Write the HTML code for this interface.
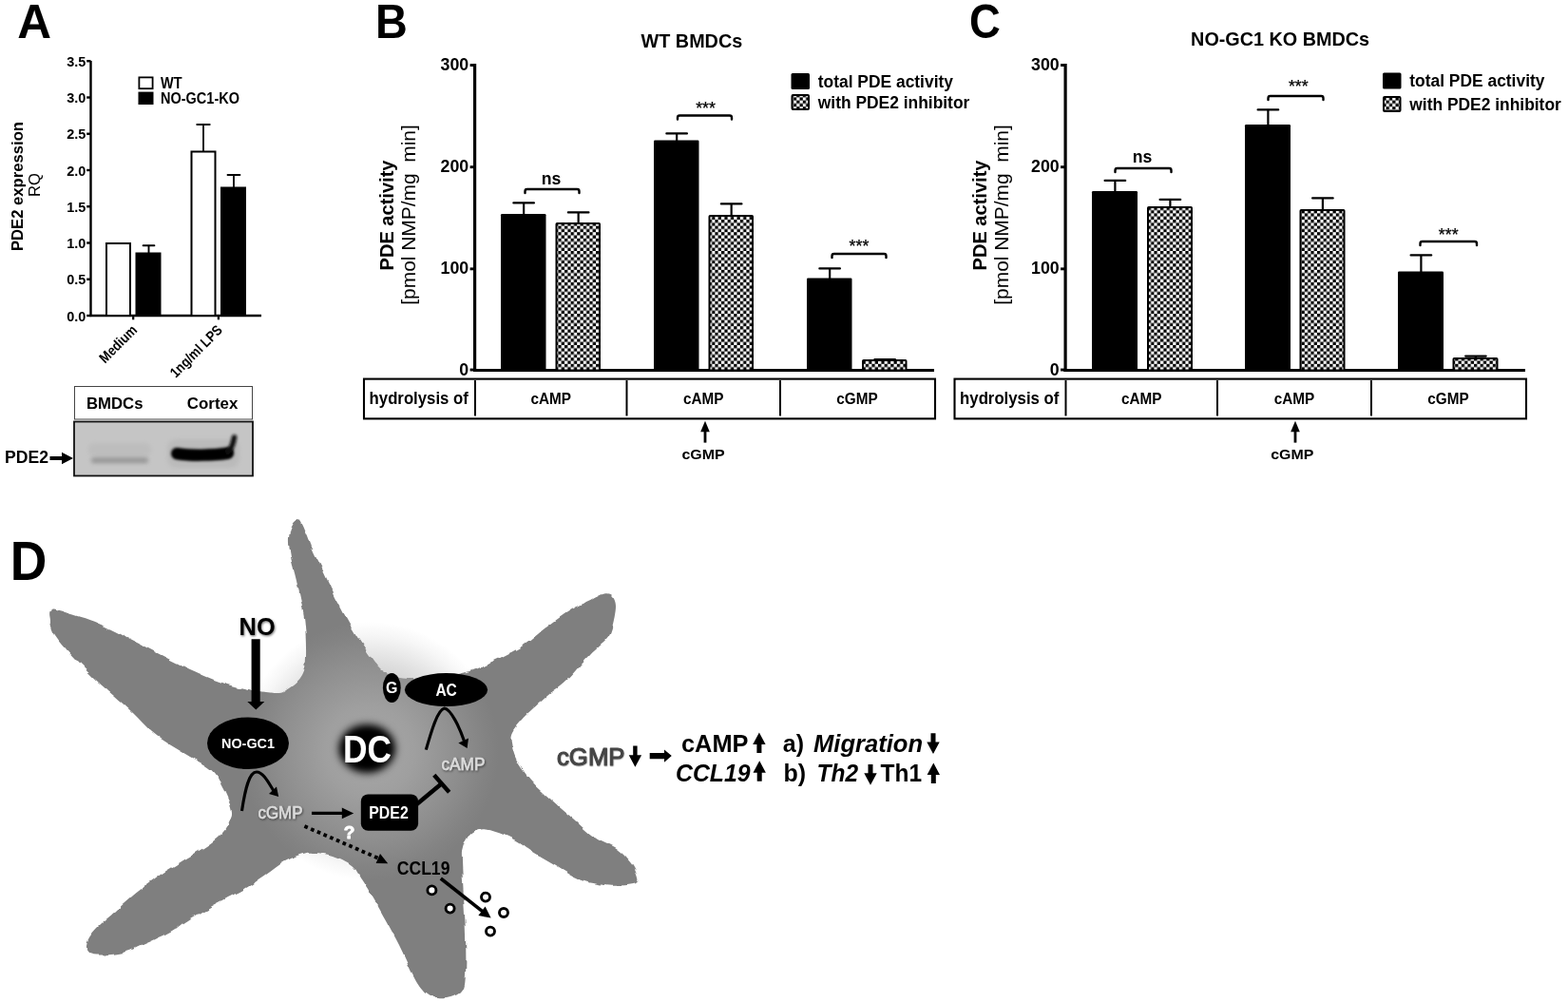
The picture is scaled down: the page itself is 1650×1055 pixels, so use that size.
<!DOCTYPE html>
<html lang="en">
<head>
<meta charset="utf-8">
<title>PDE2 expression and PDE activity in BMDCs</title>
<style>
html,body{margin:0;padding:0;background:#fff;}
body{width:1650px;height:1055px;overflow:hidden;font-family:"Liberation Sans", "DejaVu Sans", sans-serif;}
svg{display:block;}
svg text{font-family:"Liberation Sans", "DejaVu Sans", sans-serif;}
</style>
</head>
<body>
<svg width="1650" height="1055" viewBox="0 0 1650 1055">
<defs>
<pattern id="chk" x="0" y="0" width="6.6" height="6.6" patternUnits="userSpaceOnUse">
<rect x="0" y="0" width="6.6" height="6.6" fill="#fff"/>
<rect x="0" y="0" width="3.3" height="3.3" fill="#000"/>
<rect x="3.3" y="3.3" width="3.3" height="3.3" fill="#000"/>
</pattern>
<radialGradient id="glow" cx="0.5" cy="0.5" r="0.5">
<stop offset="0" stop-color="#a8a8a8" stop-opacity="1"/>
<stop offset="0.35" stop-color="#a8a8a8" stop-opacity="0.78"/>
<stop offset="0.7" stop-color="#a8a8a8" stop-opacity="0.36"/>
<stop offset="0.9" stop-color="#a8a8a8" stop-opacity="0.1"/>
<stop offset="1" stop-color="#a8a8a8" stop-opacity="0"/>
</radialGradient>
<filter id="b1" filterUnits="userSpaceOnUse" x="70" y="436" width="204" height="72"><feGaussianBlur stdDeviation="2.2"/></filter>
<filter id="b2" filterUnits="userSpaceOnUse" x="70" y="436" width="204" height="72"><feGaussianBlur stdDeviation="1.7"/></filter>
<filter id="sh" x="-20%" y="-20%" width="140%" height="160%"><feDropShadow dx="0.8" dy="1.2" stdDeviation="0.8" flood-color="#000" flood-opacity="0.55"/></filter>
<filter id="rough" filterUnits="userSpaceOnUse" x="30" y="530" width="660" height="525"><feTurbulence type="fractalNoise" baseFrequency="0.085" numOctaves="1" seed="7" result="n"/><feDisplacementMap in="SourceGraphic" in2="n" scale="6" xChannelSelector="R" yChannelSelector="G" result="d"/><feGaussianBlur in="d" stdDeviation="0.7"/></filter>
<filter id="dcblur" filterUnits="userSpaceOnUse" x="320" y="730" width="140" height="120"><feGaussianBlur stdDeviation="5"/></filter>
<filter id="sh2" x="-10%" y="-20%" width="120%" height="150%"><feDropShadow dx="0.4" dy="0.6" stdDeviation="0.6" flood-color="#000" flood-opacity="0.35"/></filter>
</defs>
<text x="18.3" y="39.8" font-size="49.5" font-weight="bold" font-style="normal" text-anchor="start" fill="#000" textLength="35.8" lengthAdjust="spacingAndGlyphs">A</text>
<text x="395" y="39.7" font-size="49.5" font-weight="bold" font-style="normal" text-anchor="start" fill="#000" textLength="33.8" lengthAdjust="spacingAndGlyphs">B</text>
<text x="1019.9" y="39.7" font-size="49.5" font-weight="bold" font-style="normal" text-anchor="start" fill="#000" textLength="32.8" lengthAdjust="spacingAndGlyphs">C</text>
<text x="10.7" y="610" font-size="57.2" font-weight="bold" font-style="normal" text-anchor="start" fill="#000" textLength="38.6" lengthAdjust="spacingAndGlyphs">D</text>
<line x1="95.5" y1="64" x2="95.5" y2="333" stroke="#000" stroke-width="2.4" stroke-linecap="butt"/>
<line x1="94.5" y1="332" x2="275" y2="332" stroke="#000" stroke-width="2.4" stroke-linecap="butt"/>
<line x1="91.2" y1="332.0" x2="95.5" y2="332.0" stroke="#000" stroke-width="2.4" stroke-linecap="butt"/>
<text x="90.3" y="337.7" font-size="15.4" font-weight="bold" font-style="normal" text-anchor="end" fill="#000" textLength="20.1" lengthAdjust="spacingAndGlyphs">0.0</text>
<line x1="91.2" y1="293.75" x2="95.5" y2="293.75" stroke="#000" stroke-width="2.4" stroke-linecap="butt"/>
<text x="90.3" y="299.45" font-size="15.4" font-weight="bold" font-style="normal" text-anchor="end" fill="#000" textLength="20.1" lengthAdjust="spacingAndGlyphs">0.5</text>
<line x1="91.2" y1="255.5" x2="95.5" y2="255.5" stroke="#000" stroke-width="2.4" stroke-linecap="butt"/>
<text x="90.3" y="261.2" font-size="15.4" font-weight="bold" font-style="normal" text-anchor="end" fill="#000" textLength="20.1" lengthAdjust="spacingAndGlyphs">1.0</text>
<line x1="91.2" y1="217.25" x2="95.5" y2="217.25" stroke="#000" stroke-width="2.4" stroke-linecap="butt"/>
<text x="90.3" y="222.95" font-size="15.4" font-weight="bold" font-style="normal" text-anchor="end" fill="#000" textLength="20.1" lengthAdjust="spacingAndGlyphs">1.5</text>
<line x1="91.2" y1="179.0" x2="95.5" y2="179.0" stroke="#000" stroke-width="2.4" stroke-linecap="butt"/>
<text x="90.3" y="184.7" font-size="15.4" font-weight="bold" font-style="normal" text-anchor="end" fill="#000" textLength="20.1" lengthAdjust="spacingAndGlyphs">2.0</text>
<line x1="91.2" y1="140.75" x2="95.5" y2="140.75" stroke="#000" stroke-width="2.4" stroke-linecap="butt"/>
<text x="90.3" y="146.45" font-size="15.4" font-weight="bold" font-style="normal" text-anchor="end" fill="#000" textLength="20.1" lengthAdjust="spacingAndGlyphs">2.5</text>
<line x1="91.2" y1="102.5" x2="95.5" y2="102.5" stroke="#000" stroke-width="2.4" stroke-linecap="butt"/>
<text x="90.3" y="108.2" font-size="15.4" font-weight="bold" font-style="normal" text-anchor="end" fill="#000" textLength="20.1" lengthAdjust="spacingAndGlyphs">3.0</text>
<line x1="91.2" y1="64.25" x2="95.5" y2="64.25" stroke="#000" stroke-width="2.4" stroke-linecap="butt"/>
<text x="90.3" y="69.95" font-size="15.4" font-weight="bold" font-style="normal" text-anchor="end" fill="#000" textLength="20.1" lengthAdjust="spacingAndGlyphs">3.5</text>
<line x1="140.2" y1="332" x2="140.2" y2="336.3" stroke="#000" stroke-width="2.2" stroke-linecap="butt"/>
<line x1="229.9" y1="332" x2="229.9" y2="336.3" stroke="#000" stroke-width="2.2" stroke-linecap="butt"/>
<rect x="112" y="256" width="25" height="76" fill="#fff" stroke="#000" stroke-width="2"/>
<rect x="142.5" y="265.5" width="27" height="66.5" fill="#000" stroke="none" stroke-width="0"/>
<line x1="156.5" y1="258.2" x2="156.5" y2="266" stroke="#000" stroke-width="1.9" stroke-linecap="butt"/>
<line x1="150.6" y1="258.2" x2="162.4" y2="258.2" stroke="#000" stroke-width="1.9" stroke-linecap="round"/>
<rect x="201.5" y="159.5" width="25" height="172.5" fill="#fff" stroke="#000" stroke-width="2"/>
<line x1="214" y1="131" x2="214" y2="159" stroke="#000" stroke-width="1.8" stroke-linecap="butt"/>
<line x1="207.25" y1="131" x2="220.75" y2="131" stroke="#000" stroke-width="1.8" stroke-linecap="round"/>
<rect x="232" y="196.5" width="27" height="135.5" fill="#000" stroke="none" stroke-width="0"/>
<line x1="246" y1="184" x2="246" y2="197" stroke="#000" stroke-width="1.8" stroke-linecap="butt"/>
<line x1="239.5" y1="184" x2="252.5" y2="184" stroke="#000" stroke-width="1.8" stroke-linecap="round"/>
<rect x="146.4" y="81.4" width="14.2" height="11.8" fill="#fff" stroke="#000" stroke-width="1.8"/>
<rect x="145.5" y="96.6" width="16" height="13.4" fill="#000" stroke="none" stroke-width="0"/>
<text x="169" y="92.7" font-size="15.95" font-weight="bold" font-style="normal" text-anchor="start" fill="#000" textLength="22.54" lengthAdjust="spacingAndGlyphs">WT</text>
<text x="169" y="109.2" font-size="15.95" font-weight="bold" font-style="normal" text-anchor="start" fill="#000" textLength="82.97" lengthAdjust="spacingAndGlyphs">NO-GC1-KO</text>
<text transform="translate(24,196) rotate(-90)" font-size="16.6" font-weight="bold" text-anchor="middle" fill="#000" textLength="136" lengthAdjust="spacingAndGlyphs">PDE2 expression</text>
<text transform="translate(42,194.5) rotate(-90)" font-size="16.6" font-weight="normal" text-anchor="middle" fill="#000">RQ</text>
<text transform="translate(145.2,348) rotate(-45)" font-size="15" font-weight="bold" text-anchor="end" fill="#000" textLength="49.11" lengthAdjust="spacingAndGlyphs">Medium</text>
<text transform="translate(235,348) rotate(-45)" font-size="15" font-weight="bold" text-anchor="end" fill="#000" textLength="70.79" lengthAdjust="spacingAndGlyphs">1ng/ml LPS</text>
<rect x="78.5" y="406.5" width="187" height="34.5" fill="#fff" stroke="#444" stroke-width="1"/>
<text x="91" y="430" font-size="16.7" font-weight="bold" font-style="normal" text-anchor="start" fill="#000" textLength="59.5" lengthAdjust="spacingAndGlyphs">BMDCs</text>
<text x="196.8" y="430" font-size="16.7" font-weight="bold" font-style="normal" text-anchor="start" fill="#000" textLength="53.5" lengthAdjust="spacingAndGlyphs">Cortex</text>
<g>
<rect x="78" y="443.5" width="188" height="57" fill="#c5c5c5" stroke="none" stroke-width="0"/>
<clipPath id="blotclip"><rect x="78" y="443.5" width="188" height="57"/></clipPath>
<g clip-path="url(#blotclip)">
<rect x="93" y="466" width="66" height="14" rx="6" fill="#b4b4b4" opacity="0.45" filter="url(#b1)"/>
<rect x="176" y="462" width="76" height="30" rx="10" fill="#aaa" opacity="0.4" filter="url(#b1)"/>
<rect x="96" y="481.5" width="60" height="5.5" rx="2.7" fill="#8a8a8a" opacity="0.85" filter="url(#b1)"/>
<path d="M186,477 C200,479.5 225,479 240,476.5" fill="none" stroke="#000" stroke-width="12" stroke-linecap="round" filter="url(#b2)"/>
<path d="M187,477.5 C200,479.5 225,479 240,477" fill="none" stroke="#000" stroke-width="9" stroke-linecap="round" filter="url(#b2)"/>
<path d="M240,475 C244,472 245.5,466 246.5,460" fill="none" stroke="#111" stroke-width="5.5" stroke-linecap="round" filter="url(#b2)"/>
</g>
<rect x="78" y="443.5" width="188" height="57" fill="none" stroke="#111" stroke-width="1.8"/>
</g>
<text x="5" y="486.5" font-size="17.5" font-weight="bold" font-style="normal" text-anchor="start" fill="#000" textLength="46" lengthAdjust="spacingAndGlyphs">PDE2</text>
<path d="M52.5,480 L65,480 L65,475.8 L77,482 L65,488.2 L65,484 L52.5,484 Z" fill="#000"/>
<line x1="499.6" y1="67" x2="499.6" y2="391.0" stroke="#000" stroke-width="3.2" stroke-linecap="butt"/>
<line x1="498" y1="389.5" x2="983" y2="389.5" stroke="#000" stroke-width="3" stroke-linecap="butt"/>
<line x1="494.6" y1="389.0" x2="500" y2="389.0" stroke="#000" stroke-width="2.9" stroke-linecap="butt"/>
<text x="493.2" y="394.5" font-size="18.4" font-weight="bold" font-style="normal" text-anchor="end" fill="#000" textLength="9.9" lengthAdjust="spacingAndGlyphs">0</text>
<line x1="494.6" y1="282.85" x2="500" y2="282.85" stroke="#000" stroke-width="2.9" stroke-linecap="butt"/>
<text x="493.2" y="288.35" font-size="18.4" font-weight="bold" font-style="normal" text-anchor="end" fill="#000" textLength="29.7" lengthAdjust="spacingAndGlyphs">100</text>
<line x1="494.6" y1="175.70000000000002" x2="500" y2="175.70000000000002" stroke="#000" stroke-width="2.9" stroke-linecap="butt"/>
<text x="493.2" y="181.20000000000002" font-size="18.4" font-weight="bold" font-style="normal" text-anchor="end" fill="#000" textLength="29.7" lengthAdjust="spacingAndGlyphs">200</text>
<line x1="494.6" y1="68.55000000000001" x2="500" y2="68.55000000000001" stroke="#000" stroke-width="2.9" stroke-linecap="butt"/>
<text x="493.2" y="74.05000000000001" font-size="18.4" font-weight="bold" font-style="normal" text-anchor="end" fill="#000" textLength="29.7" lengthAdjust="spacingAndGlyphs">300</text>
<text x="674.6" y="50" font-size="19.8" font-weight="bold" font-style="normal" text-anchor="start" fill="#000">WT BMDCs</text>
<text transform="translate(413.5,226.5) rotate(-90)" font-size="20.8" font-weight="bold" text-anchor="middle" fill="#000" textLength="116" lengthAdjust="spacingAndGlyphs">PDE activity</text>
<text transform="translate(437,226) rotate(-90)" font-size="20.8" font-weight="normal" text-anchor="middle" fill="#000" textLength="189.5" lengthAdjust="spacingAndGlyphs">[pmol NMP/mg  min]</text>
<rect x="527" y="225" width="47.5" height="164.5" fill="#000" stroke="none" stroke-width="0" rx="1.2"/>
<line x1="551.15" y1="213.4" x2="551.15" y2="226" stroke="#000" stroke-width="2.2" stroke-linecap="butt"/>
<line x1="540.35" y1="213.4" x2="561.9499999999999" y2="213.4" stroke="#000" stroke-width="2.2" stroke-linecap="round"/>
<rect x="585.5" y="235" width="45.5" height="154.5" fill="url(#chk)" stroke="#000" stroke-width="2" rx="0.8"/>
<line x1="608.65" y1="223.4" x2="608.65" y2="235" stroke="#000" stroke-width="2.2" stroke-linecap="butt"/>
<line x1="597.85" y1="223.4" x2="619.4499999999999" y2="223.4" stroke="#000" stroke-width="2.2" stroke-linecap="round"/>
<rect x="688" y="147.5" width="47.5" height="242.0" fill="#000" stroke="none" stroke-width="0" rx="1.2"/>
<line x1="712.15" y1="140.4" x2="712.15" y2="148.5" stroke="#000" stroke-width="2.2" stroke-linecap="butt"/>
<line x1="701.35" y1="140.4" x2="722.9499999999999" y2="140.4" stroke="#000" stroke-width="2.2" stroke-linecap="round"/>
<rect x="746.5" y="227" width="45.5" height="162.5" fill="url(#chk)" stroke="#000" stroke-width="2" rx="0.8"/>
<line x1="769.65" y1="214.4" x2="769.65" y2="227" stroke="#000" stroke-width="2.2" stroke-linecap="butt"/>
<line x1="758.85" y1="214.4" x2="780.4499999999999" y2="214.4" stroke="#000" stroke-width="2.2" stroke-linecap="round"/>
<rect x="849" y="292.5" width="47.5" height="97.0" fill="#000" stroke="none" stroke-width="0" rx="1.2"/>
<line x1="873.15" y1="282.4" x2="873.15" y2="293.5" stroke="#000" stroke-width="2.2" stroke-linecap="butt"/>
<line x1="862.35" y1="282.4" x2="883.9499999999999" y2="282.4" stroke="#000" stroke-width="2.2" stroke-linecap="round"/>
<rect x="908" y="379" width="45.5" height="10.5" fill="url(#chk)" stroke="#000" stroke-width="2" rx="0.8"/>
<line x1="931.15" y1="378.0" x2="931.15" y2="379" stroke="#000" stroke-width="2.2" stroke-linecap="butt"/>
<line x1="920.35" y1="378.0" x2="941.9499999999999" y2="378.0" stroke="#000" stroke-width="2.2" stroke-linecap="round"/>
<path d="M552.5,203 L552.5,201.2 Q552.5,199 554.7,199 L607.3,199 Q609.5,199 609.5,201.2 L609.5,203" fill="none" stroke="#000" stroke-width="2.4" stroke-linecap="round" stroke-linejoin="round"/>
<text x="580.0" y="194.3" font-size="18.5" font-weight="bold" font-style="normal" text-anchor="middle" fill="#000" textLength="20.6" lengthAdjust="spacingAndGlyphs">ns</text>
<path d="M713,125.5 L713,123.7 Q713,121.5 715.2,121.5 L767.8,121.5 Q770,121.5 770,123.7 L770,125.5" fill="none" stroke="#000" stroke-width="2.4" stroke-linecap="round" stroke-linejoin="round"/>
<text x="742.6" y="119.6" font-size="17.8" font-weight="normal" font-style="normal" text-anchor="middle" fill="#000" stroke="#000" stroke-width="0.25">***</text>
<path d="M875.5,271 L875.5,269.2 Q875.5,267 877.7,267 L930.3,267 Q932.5,267 932.5,269.2 L932.5,271" fill="none" stroke="#000" stroke-width="2.4" stroke-linecap="round" stroke-linejoin="round"/>
<text x="904.0" y="265.1" font-size="17.8" font-weight="normal" font-style="normal" text-anchor="middle" fill="#000" stroke="#000" stroke-width="0.25">***</text>
<rect x="832.5" y="77" width="19.5" height="17" fill="#000" stroke="none" stroke-width="0" rx="1.5"/>
<rect x="833.5" y="100" width="17.5" height="15" fill="url(#chk)" stroke="#000" stroke-width="2" rx="1"/>
<text x="860.8" y="91.5" font-size="19.14" font-weight="bold" font-style="normal" text-anchor="start" fill="#000" textLength="142.14" lengthAdjust="spacingAndGlyphs">total PDE activity</text>
<text x="860.8" y="113.5" font-size="19.14" font-weight="bold" font-style="normal" text-anchor="start" fill="#000" textLength="159.5" lengthAdjust="spacingAndGlyphs">with PDE2 inhibitor</text>
<rect x="383" y="398.6" width="601" height="41.8" fill="#fff" stroke="#000" stroke-width="2.1"/>
<line x1="500" y1="400" x2="500" y2="437.5" stroke="#000" stroke-width="2" stroke-linecap="butt"/>
<line x1="659.5" y1="400" x2="659.5" y2="437.5" stroke="#000" stroke-width="2" stroke-linecap="butt"/>
<line x1="821" y1="400" x2="821" y2="437.5" stroke="#000" stroke-width="2" stroke-linecap="butt"/>
<text x="388.6" y="425.3" font-size="18.43" font-weight="bold" font-style="normal" text-anchor="start" fill="#000" textLength="104.25" lengthAdjust="spacingAndGlyphs">hydrolysis of</text>
<text x="579.75" y="425.2" font-size="15.76" font-weight="bold" font-style="normal" text-anchor="middle" fill="#000" textLength="42.51" lengthAdjust="spacingAndGlyphs">cAMP</text>
<text x="740.25" y="425.2" font-size="15.76" font-weight="bold" font-style="normal" text-anchor="middle" fill="#000" textLength="42.51" lengthAdjust="spacingAndGlyphs">cAMP</text>
<text x="902.0" y="425.2" font-size="15.76" font-weight="bold" font-style="normal" text-anchor="middle" fill="#000" textLength="43.36" lengthAdjust="spacingAndGlyphs">cGMP</text>
<line x1="742" y1="453.3" x2="742" y2="465.6" stroke="#000" stroke-width="2.8" stroke-linecap="butt"/>
<path d="M742,442.8 L746.8,454.3 L737.2,454.3 Z" fill="#000"/>
<text x="740" y="482.6" font-size="14.7" font-weight="bold" font-style="normal" text-anchor="middle" fill="#000" textLength="45.2" lengthAdjust="spacingAndGlyphs">cGMP</text>
<line x1="1121.1" y1="67" x2="1121.1" y2="391.0" stroke="#000" stroke-width="3.2" stroke-linecap="butt"/>
<line x1="1119.5" y1="389.5" x2="1605" y2="389.5" stroke="#000" stroke-width="3" stroke-linecap="butt"/>
<line x1="1116.1" y1="389.0" x2="1121.5" y2="389.0" stroke="#000" stroke-width="2.9" stroke-linecap="butt"/>
<text x="1114.7" y="394.5" font-size="18.4" font-weight="bold" font-style="normal" text-anchor="end" fill="#000" textLength="9.9" lengthAdjust="spacingAndGlyphs">0</text>
<line x1="1116.1" y1="282.85" x2="1121.5" y2="282.85" stroke="#000" stroke-width="2.9" stroke-linecap="butt"/>
<text x="1114.7" y="288.35" font-size="18.4" font-weight="bold" font-style="normal" text-anchor="end" fill="#000" textLength="29.7" lengthAdjust="spacingAndGlyphs">100</text>
<line x1="1116.1" y1="175.70000000000002" x2="1121.5" y2="175.70000000000002" stroke="#000" stroke-width="2.9" stroke-linecap="butt"/>
<text x="1114.7" y="181.20000000000002" font-size="18.4" font-weight="bold" font-style="normal" text-anchor="end" fill="#000" textLength="29.7" lengthAdjust="spacingAndGlyphs">200</text>
<line x1="1116.1" y1="68.55000000000001" x2="1121.5" y2="68.55000000000001" stroke="#000" stroke-width="2.9" stroke-linecap="butt"/>
<text x="1114.7" y="74.05000000000001" font-size="18.4" font-weight="bold" font-style="normal" text-anchor="end" fill="#000" textLength="29.7" lengthAdjust="spacingAndGlyphs">300</text>
<text x="1253.1" y="48" font-size="19.8" font-weight="bold" font-style="normal" text-anchor="start" fill="#000">NO-GC1 KO BMDCs</text>
<text transform="translate(1037.5,226.5) rotate(-90)" font-size="20.8" font-weight="bold" text-anchor="middle" fill="#000" textLength="116" lengthAdjust="spacingAndGlyphs">PDE activity</text>
<text transform="translate(1061.0,226) rotate(-90)" font-size="20.8" font-weight="normal" text-anchor="middle" fill="#000" textLength="189.5" lengthAdjust="spacingAndGlyphs">[pmol NMP/mg  min]</text>
<rect x="1149" y="201" width="48" height="188.5" fill="#000" stroke="none" stroke-width="0" rx="1.2"/>
<line x1="1173.4" y1="189.9" x2="1173.4" y2="202" stroke="#000" stroke-width="2.2" stroke-linecap="butt"/>
<line x1="1162.6000000000001" y1="189.9" x2="1184.2" y2="189.9" stroke="#000" stroke-width="2.2" stroke-linecap="round"/>
<rect x="1208" y="218" width="46" height="171.5" fill="url(#chk)" stroke="#000" stroke-width="2" rx="0.8"/>
<line x1="1231.4" y1="209.9" x2="1231.4" y2="218" stroke="#000" stroke-width="2.2" stroke-linecap="butt"/>
<line x1="1220.6000000000001" y1="209.9" x2="1242.2" y2="209.9" stroke="#000" stroke-width="2.2" stroke-linecap="round"/>
<rect x="1310" y="131" width="48" height="258.5" fill="#000" stroke="none" stroke-width="0" rx="1.2"/>
<line x1="1334.4" y1="115.4" x2="1334.4" y2="132" stroke="#000" stroke-width="2.2" stroke-linecap="butt"/>
<line x1="1323.6000000000001" y1="115.4" x2="1345.2" y2="115.4" stroke="#000" stroke-width="2.2" stroke-linecap="round"/>
<rect x="1368.5" y="221" width="46" height="168.5" fill="url(#chk)" stroke="#000" stroke-width="2" rx="0.8"/>
<line x1="1391.9" y1="208.4" x2="1391.9" y2="221" stroke="#000" stroke-width="2.2" stroke-linecap="butt"/>
<line x1="1381.1000000000001" y1="208.4" x2="1402.7" y2="208.4" stroke="#000" stroke-width="2.2" stroke-linecap="round"/>
<rect x="1471" y="285.5" width="48" height="104.0" fill="#000" stroke="none" stroke-width="0" rx="1.2"/>
<line x1="1495.4" y1="268.4" x2="1495.4" y2="286.5" stroke="#000" stroke-width="2.2" stroke-linecap="butt"/>
<line x1="1484.6000000000001" y1="268.4" x2="1506.2" y2="268.4" stroke="#000" stroke-width="2.2" stroke-linecap="round"/>
<rect x="1529.5" y="377" width="46" height="12.5" fill="url(#chk)" stroke="#000" stroke-width="2" rx="0.8"/>
<line x1="1552.9" y1="374.59999999999997" x2="1552.9" y2="377" stroke="#000" stroke-width="2.2" stroke-linecap="butt"/>
<line x1="1542.1000000000001" y1="374.59999999999997" x2="1563.7" y2="374.59999999999997" stroke="#000" stroke-width="2.2" stroke-linecap="round"/>
<path d="M1173.5,181 L1173.5,179.2 Q1173.5,177 1175.7,177 L1230.3,177 Q1232.5,177 1232.5,179.2 L1232.5,181" fill="none" stroke="#000" stroke-width="2.4" stroke-linecap="round" stroke-linejoin="round"/>
<text x="1202.0" y="171.3" font-size="18.5" font-weight="bold" font-style="normal" text-anchor="middle" fill="#000" textLength="20.6" lengthAdjust="spacingAndGlyphs">ns</text>
<path d="M1334.5,105 L1334.5,103.2 Q1334.5,101 1336.7,101 L1390.3,101 Q1392.5,101 1392.5,103.2 L1392.5,105" fill="none" stroke="#000" stroke-width="2.4" stroke-linecap="round" stroke-linejoin="round"/>
<text x="1366.3" y="96.6" font-size="17.8" font-weight="normal" font-style="normal" text-anchor="middle" fill="#000" stroke="#000" stroke-width="0.25">***</text>
<path d="M1494.5,258 L1494.5,256.2 Q1494.5,254 1496.7,254 L1551.8,254 Q1554,254 1554,256.2 L1554,258" fill="none" stroke="#000" stroke-width="2.4" stroke-linecap="round" stroke-linejoin="round"/>
<text x="1524.25" y="253.1" font-size="17.8" font-weight="normal" font-style="normal" text-anchor="middle" fill="#000" stroke="#000" stroke-width="0.25">***</text>
<rect x="1455" y="76.5" width="19.5" height="17" fill="#000" stroke="none" stroke-width="0" rx="1.5"/>
<rect x="1456" y="102" width="17.5" height="15" fill="url(#chk)" stroke="#000" stroke-width="2" rx="1"/>
<text x="1483.3" y="90.8" font-size="19.14" font-weight="bold" font-style="normal" text-anchor="start" fill="#000" textLength="142.14" lengthAdjust="spacingAndGlyphs">total PDE activity</text>
<text x="1483.3" y="115.6" font-size="19.14" font-weight="bold" font-style="normal" text-anchor="start" fill="#000" textLength="159.5" lengthAdjust="spacingAndGlyphs">with PDE2 inhibitor</text>
<rect x="1004.5" y="398.6" width="601.5" height="41.8" fill="#fff" stroke="#000" stroke-width="2.1"/>
<line x1="1121.5" y1="400" x2="1121.5" y2="437.5" stroke="#000" stroke-width="2" stroke-linecap="butt"/>
<line x1="1281" y1="400" x2="1281" y2="437.5" stroke="#000" stroke-width="2" stroke-linecap="butt"/>
<line x1="1443" y1="400" x2="1443" y2="437.5" stroke="#000" stroke-width="2" stroke-linecap="butt"/>
<text x="1010.1" y="425.3" font-size="18.43" font-weight="bold" font-style="normal" text-anchor="start" fill="#000" textLength="104.25" lengthAdjust="spacingAndGlyphs">hydrolysis of</text>
<text x="1201.25" y="425.2" font-size="15.76" font-weight="bold" font-style="normal" text-anchor="middle" fill="#000" textLength="42.51" lengthAdjust="spacingAndGlyphs">cAMP</text>
<text x="1362.0" y="425.2" font-size="15.76" font-weight="bold" font-style="normal" text-anchor="middle" fill="#000" textLength="42.51" lengthAdjust="spacingAndGlyphs">cAMP</text>
<text x="1524.0" y="425.2" font-size="15.76" font-weight="bold" font-style="normal" text-anchor="middle" fill="#000" textLength="43.36" lengthAdjust="spacingAndGlyphs">cGMP</text>
<line x1="1363" y1="453.3" x2="1363" y2="465.6" stroke="#000" stroke-width="2.8" stroke-linecap="butt"/>
<path d="M1363,442.8 L1367.8,454.3 L1358.2,454.3 Z" fill="#000"/>
<text x="1359.8" y="482.6" font-size="14.7" font-weight="bold" font-style="normal" text-anchor="middle" fill="#000" textLength="45.2" lengthAdjust="spacingAndGlyphs">cGMP</text>
<path id="starpath" d="M315,547 C317.3,548.3 319.5,554.5 322,560 C324.5,565.5 327.3,574.0 330,580 C332.7,586.0 333.7,587.0 338,596 C342.3,605.0 349.7,621.7 356,634 C362.3,646.3 369.0,658.7 376,670 C383.0,681.3 391.7,695.2 398,702 C404.3,708.8 407.0,709.2 414,711 C421.0,712.8 430.7,713.0 440,713 C449.3,713.0 461.7,712.0 470,711 C478.3,710.0 484.7,708.3 490,707 C495.3,705.7 495.3,705.8 502,703 C508.7,700.2 521.7,694.2 530,690 C538.3,685.8 544.3,683.2 552,678 C559.7,672.8 568.0,665.0 576,659 C584.0,653.0 592.7,646.5 600,642 C607.3,637.5 614.0,634.9 620,632 C626.0,629.1 632.0,625.3 636,624.5 C640.0,623.7 642.0,624.8 644,627 C646.0,629.2 648.0,632.5 648,638 C648.0,643.5 645.7,654.3 644,660 C642.3,665.7 642.0,667.2 638,672 C634.0,676.8 627.0,681.7 620,689 C613.0,696.3 603.3,708.8 596,716 C588.7,723.2 582.3,726.7 576,732 C569.7,737.3 562.7,743.7 558,748 C553.3,752.3 551.2,754.3 548,758 C544.8,761.7 540.7,766.3 539,770 C537.3,773.7 537.2,775.0 538,780 C538.8,785.0 540.3,793.0 544,800 C547.7,807.0 554.0,815.2 560,822 C566.0,828.8 572.7,834.3 580,841 C587.3,847.7 596.3,855.3 604,862 C611.7,868.7 618.3,875.7 626,881 C633.7,886.3 643.7,889.5 650,894 C656.3,898.5 660.7,903.7 664,908 C667.3,912.3 668.9,916.7 670,920 C671.1,923.3 672.2,926.2 670.5,928 C668.8,929.8 665.1,930.4 660,931 C654.9,931.6 647.3,932.2 640,931.5 C632.7,930.8 622.7,928.9 616,927 C609.3,925.1 606.0,923.2 600,920 C594.0,916.8 586.7,912.0 580,908 C573.3,904.0 565.7,899.7 560,896 C554.3,892.3 551.0,889.0 546,886 C541.0,883.0 535.7,880.2 530,878 C524.3,875.8 517.0,873.2 512,872.5 C507.0,871.8 503.3,872.8 500,874 C496.7,875.2 494.2,877.0 492,880 C489.8,883.0 488.0,888.0 487,892 C486.0,896.0 485.8,895.3 486,904 C486.2,912.7 487.3,930.7 488,944 C488.7,957.3 489.7,970.7 490,984 C490.3,997.3 490.7,1014.3 490,1024 C489.3,1033.7 489.3,1037.7 486,1042 C482.7,1046.3 475.3,1049.0 470,1050 C464.7,1051.0 458.3,1049.7 454,1048 C449.7,1046.3 447.3,1044.0 444,1040 C440.7,1036.0 438.0,1031.7 434,1024 C430.0,1016.3 424.7,1003.3 420,994 C415.3,984.7 411.0,977.0 406,968 C401.0,959.0 394.3,947.3 390,940 C385.7,932.7 383.3,929.0 380,924 C376.7,919.0 375.0,914.0 370,910 C365.0,906.0 356.7,902.2 350,900 C343.3,897.8 335.0,897.3 330,897 C325.0,896.7 325.0,896.5 320,898 C315.0,899.5 306.7,902.3 300,906 C293.3,909.7 287.3,915.0 280,920 C272.7,925.0 262.7,932.0 256,936 C249.3,940.0 249.3,939.0 240,944 C230.7,949.0 210.0,960.0 200,966 C190.0,972.0 188.3,975.3 180,980 C171.7,984.7 158.3,990.3 150,994 C141.7,997.7 136.7,1000.2 130,1002 C123.3,1003.8 115.7,1004.3 110,1004.5 C104.3,1004.7 99.2,1004.4 96,1003 C92.8,1001.6 91.3,998.8 91,996 C90.7,993.2 91.8,989.7 94,986 C96.2,982.3 99.7,978.3 104,974 C108.3,969.7 114.0,965.3 120,960 C126.0,954.7 132.3,948.3 140,942 C147.7,935.7 158.0,927.7 166,922 C174.0,916.3 179.0,913.7 188,908 C197.0,902.3 212.0,893.7 220,888 C228.0,882.3 232.3,878.3 236,874 C239.7,869.7 240.7,865.3 242,862 C243.3,858.7 244.3,857.7 244,854 C243.7,850.3 242.3,845.7 240,840 C237.7,834.3 233.3,825.3 230,820 C226.7,814.7 225.0,812.0 220,808 C215.0,804.0 206.7,800.0 200,796 C193.3,792.0 186.7,788.3 180,784 C173.3,779.7 166.7,775.7 160,770 C153.3,764.3 146.7,756.3 140,750 C133.3,743.7 126.0,737.3 120,732 C114.0,726.7 110.7,724.3 104,718 C97.3,711.7 87.7,702.3 80,694 C72.3,685.7 62.6,675.3 58,668 C53.4,660.7 53.3,654.2 52.5,650 C51.7,645.8 52.4,644.6 53,643 C53.6,641.4 53.2,640.2 56,640.5 C58.8,640.8 62.0,641.9 70,644.5 C78.0,647.1 89.7,649.8 104,656 C118.3,662.2 140.0,674.0 156,682 C172.0,690.0 186.0,697.7 200,704 C214.0,710.3 225.3,715.8 240,720 C254.7,724.2 277.3,728.3 288,729 C298.7,729.7 299.0,727.2 304,724 C309.0,720.8 315.0,715.7 318,710 C321.0,704.3 321.7,700.0 322,690 C322.3,680.0 321.7,663.3 320,650 C318.3,636.7 314.3,620.7 312,610 C309.7,599.3 307.3,593.3 306,586 C304.7,578.7 303.7,571.7 304,566 C304.3,560.3 306.2,555.2 308,552 C309.8,548.8 312.7,545.7 315,547 Z" fill="#7f7f7f" filter="url(#rough)"/>
<circle cx="389" cy="790" r="136" fill="url(#glow)"/>
<ellipse cx="386.3" cy="787.4" rx="29" ry="25" fill="#000" filter="url(#dcblur)"/>
<ellipse cx="386.3" cy="787.4" rx="25" ry="20" fill="#000" filter="url(#dcblur)"/>
<text x="386.5" y="801.8" font-size="40" font-weight="bold" font-style="normal" text-anchor="middle" fill="#fff" textLength="51" lengthAdjust="spacingAndGlyphs">DC</text>
<text x="251.6" y="667.6" font-size="26.5" font-weight="bold" font-style="normal" text-anchor="start" fill="#000" textLength="38" lengthAdjust="spacingAndGlyphs" filter="url(#sh)">NO</text>
<path d="M264.6,672.3 L273.7,672.3 L273.7,738 L278.3,738 L269.3,746.6 L260.3,738 L264.6,738 Z" fill="#000"/>
<ellipse cx="261" cy="781.7" rx="43" ry="27.3" fill="#000"/>
<text x="261" y="787.4" font-size="15.2" font-weight="bold" font-style="normal" text-anchor="middle" fill="#fff" textLength="56" lengthAdjust="spacingAndGlyphs">NO-GC1</text>
<path d="M254.5,853 C258,830 262,812 270,812 C277,812 283,824 288,832" fill="none" stroke="#000" stroke-width="3.1" stroke-linecap="butt"/>
<path d="M293.2,838 L283,835 L291,827.4 Z" fill="#000"/>
<text x="271.5" y="861" font-size="17.5" font-weight="normal" font-style="normal" text-anchor="start" fill="#dcdcdc" textLength="47" lengthAdjust="spacingAndGlyphs" stroke="#dcdcdc" stroke-width="0.5" filter="url(#sh)">cGMP</text>
<line x1="328" y1="855.4" x2="363" y2="855.4" stroke="#000" stroke-width="3.4" stroke-linecap="butt"/>
<path d="M372.2,855.4 L359.8,849.6 L359.8,861.2 Z" fill="#000"/>
<rect x="379.8" y="835.4" width="60.3" height="38.4" rx="7.5" fill="#000"/>
<text x="409" y="861.4" font-size="18.8" font-weight="bold" font-style="normal" text-anchor="middle" fill="#fff" textLength="41.4" lengthAdjust="spacingAndGlyphs">PDE2</text>
<line x1="438.5" y1="846" x2="465" y2="824" stroke="#000" stroke-width="4.5" stroke-linecap="butt"/>
<line x1="456.8" y1="815.3" x2="472.7" y2="833.2" stroke="#000" stroke-width="4.4" stroke-linecap="butt"/>
<line x1="320.4" y1="869" x2="397.5" y2="902.5" stroke="#000" stroke-width="3.8" stroke-linecap="butt" stroke-dasharray="3.7 3.6"/>
<path d="M408.2,908.2 L395.6,908 L400,898 Z" fill="#000"/>
<text x="367.6" y="881.6" font-size="19" font-weight="bold" font-style="normal" text-anchor="middle" fill="#fff" stroke="#fff" stroke-width="0.9" stroke-linejoin="round">?</text>
<ellipse cx="412.3" cy="723.5" rx="9.4" ry="15.5" fill="#000"/>
<text x="412.3" y="729.4" font-size="17.2" font-weight="bold" font-style="normal" text-anchor="middle" fill="#fff" textLength="12.4" lengthAdjust="spacingAndGlyphs">G</text>
<ellipse cx="469.5" cy="725.6" rx="43.6" ry="17.5" fill="#000"/>
<text x="469.6" y="732.2" font-size="18.4" font-weight="bold" font-style="normal" text-anchor="middle" fill="#fff" textLength="22.4" lengthAdjust="spacingAndGlyphs">AC</text>
<path d="M448.3,788.6 C454,769 460.5,746.5 467.6,745 C474.5,746 483.5,765 488.3,779" fill="none" stroke="#000" stroke-width="3.1"/>
<path d="M491.6,787 L482.4,781.6 L493,776.4 Z" fill="#000"/>
<text x="464.5" y="809.5" font-size="17.5" font-weight="normal" font-style="normal" text-anchor="start" fill="#dcdcdc" textLength="46" lengthAdjust="spacingAndGlyphs" stroke="#dcdcdc" stroke-width="0.5" filter="url(#sh)">cAMP</text>
<text x="417.8" y="919.6" font-size="21" font-weight="bold" font-style="normal" text-anchor="start" fill="#000" textLength="55.6" lengthAdjust="spacingAndGlyphs">CCL19</text>
<line x1="463.8" y1="924" x2="508" y2="958.8" stroke="#000" stroke-width="3.6" stroke-linecap="butt"/>
<path d="M516.6,965.6 L503.4,963 L510.6,953.4 Z" fill="#000"/>
<circle cx="454.4" cy="936.4" r="4.5" fill="#fff" stroke="#000" stroke-width="2.9"/>
<circle cx="473.6" cy="955.6" r="4.5" fill="#fff" stroke="#000" stroke-width="2.9"/>
<circle cx="511" cy="943.6" r="4.5" fill="#fff" stroke="#000" stroke-width="2.9"/>
<circle cx="530" cy="960" r="4.5" fill="#fff" stroke="#000" stroke-width="2.9"/>
<circle cx="516" cy="979.6" r="4.5" fill="#fff" stroke="#000" stroke-width="2.9"/>
<text x="586" y="805" font-size="25.4" font-weight="normal" font-style="normal" text-anchor="start" fill="#454545" textLength="71.5" lengthAdjust="spacingAndGlyphs" stroke="#454545" stroke-width="1.1" stroke-linejoin="round" filter="url(#sh2)">cGMP</text>
<path d="M666.1999999999999,784.5 L670.6,784.5 L670.6,794.2 L675.1,794.2 L668.4,806.7 L661.6999999999999,794.2 L666.1999999999999,794.2 Z" fill="#000"/>
<path d="M683.7,792 L699,792 L699,788.4 L706.8,795.1 L699,801.8 L699,798.3 L683.7,798.3 Z" fill="#000"/>
<text x="717" y="791.3" font-size="25" font-weight="bold" font-style="normal" text-anchor="start" fill="#000" textLength="70.5" lengthAdjust="spacingAndGlyphs">cAMP</text>
<path d="M796.4,792 L801.4,792 L801.4,782.9 L805.6,782.9 L798.9,770.4 L792.1999999999999,782.9 L796.4,782.9 Z" fill="#000"/>
<text x="823.8" y="791.3" font-size="25" font-weight="bold" font-style="normal" text-anchor="start" fill="#000">a)</text>
<text x="856" y="791.3" font-size="25" font-weight="bold" font-style="italic" text-anchor="start" fill="#000" textLength="115" lengthAdjust="spacingAndGlyphs">Migration</text>
<path d="M979.5,771.3 L984.5,771.3 L984.5,780.5 L988.7,780.5 L982,793 L975.3,780.5 L979.5,780.5 Z" fill="#000"/>
<text x="711" y="822" font-size="25" font-weight="bold" font-style="italic" text-anchor="start" fill="#000" textLength="78.5" lengthAdjust="spacingAndGlyphs">CCL19</text>
<path d="M796.7,821.8 L801.7,821.8 L801.7,812.7 L805.9000000000001,812.7 L799.2,800.2 L792.5,812.7 L796.7,812.7 Z" fill="#000"/>
<text x="824.6" y="822" font-size="25" font-weight="bold" font-style="normal" text-anchor="start" fill="#000">b)</text>
<text x="859.5" y="822" font-size="25" font-weight="bold" font-style="italic" text-anchor="start" fill="#000" textLength="43.5" lengthAdjust="spacingAndGlyphs">Th2</text>
<path d="M913.5,804 L918.5,804 L918.5,813.3 L922.7,813.3 L916,825.8 L909.3,813.3 L913.5,813.3 Z" fill="#000"/>
<text x="926.5" y="822" font-size="25" font-weight="bold" font-style="normal" text-anchor="start" fill="#000" textLength="43.5" lengthAdjust="spacingAndGlyphs">Th1</text>
<path d="M979.8,824 L984.8,824 L984.8,815.0 L989.0,815.0 L982.3,802.5 L975.5999999999999,815.0 L979.8,815.0 Z" fill="#000"/>
</svg>
</body>
</html>
